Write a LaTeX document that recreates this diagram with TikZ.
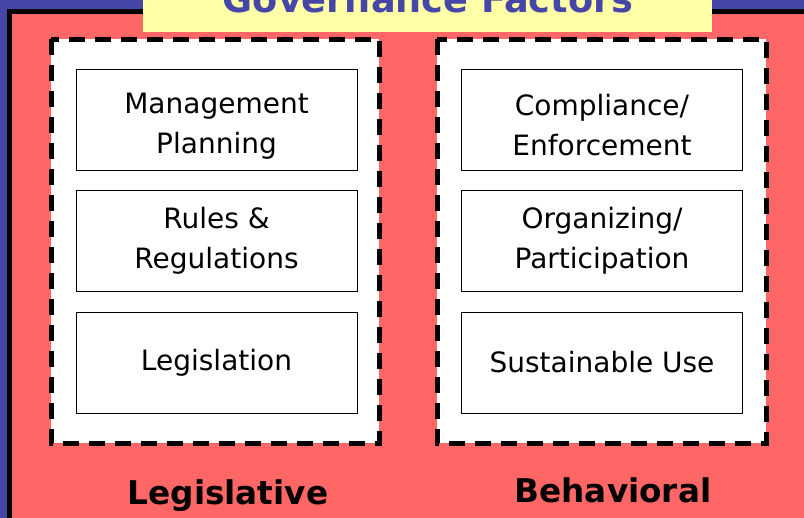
\documentclass[tikz,border=0pt]{standalone}
\usepackage{fontspec}
\setmainfont{DejaVu Sans}
\usetikzlibrary{positioning}
\definecolor{slideblue}{HTML}{4646A8}
\definecolor{slidered}{HTML}{FF6666}
\definecolor{slideyellow}{HTML}{FFFFA8}
\newcommand{\lowerstrut}{\rule{0pt}{25pt}}
\tikzset{
  factor/.style={draw, thin, fill=white, minimum width=210.75pt, minimum height=75.75pt,
    align=center, font=\fontsize{21}{30}\selectfont, inner sep=0pt},
  group/.style={draw, line width=3.75pt, fill=white, dash pattern=on 12pt off 7.5pt},
  grouplabel/.style={font=\fontsize{24.5}{29}\selectfont\bfseries}
}
\begin{document}
\begin{tikzpicture}[x=0.75pt,y=-0.75pt]
      \useasboundingbox (0,0) rectangle (804,518);
      \clip (0,0) rectangle (804,518);
      \fill[slideblue] (0,0) rectangle (804,518);
      \draw[line width=3.75pt, fill=slidered] (9.5,11.5) rectangle (830,540);
      % title
      \fill[slideyellow] (143,-5) rectangle (712,32);
      \node[anchor=base, text=slideblue, font=\fontsize{27.5}{30}\selectfont\bfseries]
        (title) at (428,12) {Governance Factors};
      % dashed groups
      \draw[group] (51,39) rectangle (379,443);
      \draw[group] (437,39) rectangle (766,443);
      % legislative
      \node[factor] (mgmt) at (216.5,119.5) {\lowerstrut Management\\Planning};
      \node[factor] (rules) at (216.5,240.5) {Rules \&\\Regulations};
      \node[factor] (legis) at (216.5,362.5) {Legislation};
      % behavioral
      \node[factor] (comp) at (602,119.5) {\lowerstrut Compliance/\\Enforcement};
      \node[factor] (organ) at (602,240.5) {Organizing/\\Participation};
      \node[factor] (sust) at (602,362.5) {Sustainable Use};
      \node[grouplabel, anchor=base] (leglabel) at (228,504) {Legislative};
      \node[grouplabel, anchor=base] (behlabel) at (613,502) {Behavioral};
    \end{tikzpicture}
\end{document}
